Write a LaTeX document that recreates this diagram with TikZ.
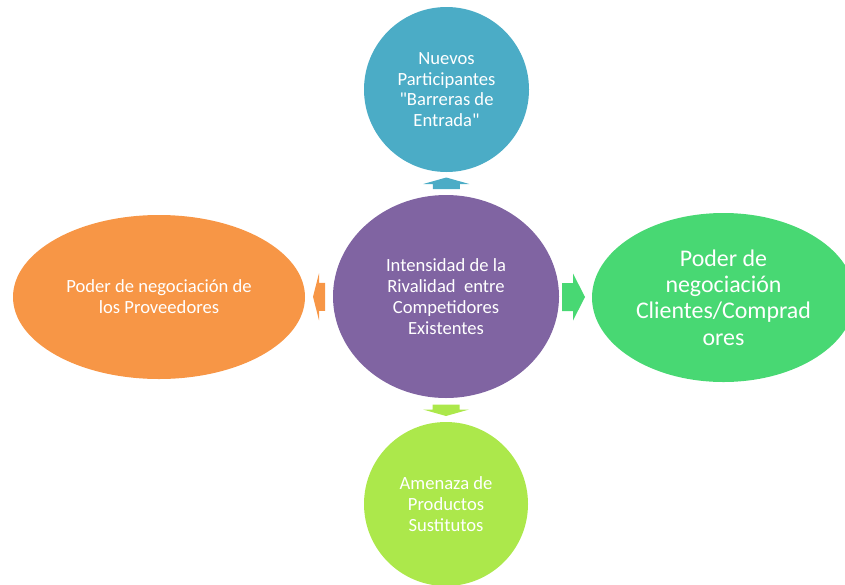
\documentclass[tikz,border=0pt]{standalone}
\usepackage{fontspec}
\setmainfont{Carlito}[Ligatures=TeXOff]
\usetikzlibrary{shapes.geometric,calc}

\definecolor{aqua}{HTML}{4BACC6}
\definecolor{violet}{HTML}{8064A2}
\definecolor{amber}{HTML}{F79646}
\definecolor{leaf}{HTML}{48D873}
\definecolor{lime}{HTML}{ACE84B}

\tikzset{
  force/.style={ellipse, inner sep=0pt, text=white, align=center},
  smalltxt/.style={font=\fontsize{18.6}{20.8}\selectfont},
  bigtxt/.style={font=\fontsize{23.9}{26.4}\selectfont},
}

\begin{document}
\begin{tikzpicture}[x=1pt, y=-1pt]
  \useasboundingbox (0,0) rectangle (845,584);
  \clip (0,0) rectangle (845,584);

  % the five forces
  \node[force, smalltxt, fill=violet, minimum width=226pt, minimum height=203pt]
    (rival) at (446,296.5)
    {Intensidad de la\\Rivalidad~~entre\\Competidores\\Existentes};
  \node[force, smalltxt, fill=aqua, minimum width=165pt, minimum height=165pt]
    (nuevos) at (446.5,89.5)
    {Nuevos\\Participantes\\"Barreras de\\Entrada"};
  \node[force, smalltxt, fill=lime, minimum width=164pt, minimum height=164pt]
    (sustitutos) at (446,504)
    {Amenaza de\\Productos\\Sustitutos};
  \node[force, smalltxt, fill=amber, minimum width=292pt, minimum height=164pt]
    (proveedores) at (159,297)
    {Poder de negociación de\\los Proveedores};
  \node[force, bigtxt, fill=leaf, minimum width=263pt, minimum height=169pt]
    (clientes) at (723.5,297.5)
    {Poder de\\negociación\\Clientes/Comprad\\ores};

  % anchor points of the block arrows, halfway between the shapes
  \coordinate (aup)    at ($(rival.north)!0.5!(nuevos.south)$);
  \coordinate (adown)  at ($(rival.south)!0.5!(sustitutos.north)$);
  \coordinate (aright) at ($(rival.east)!0.5!(clientes.west)+(-2,0)$);
  \coordinate (aleft)  at ($(rival.west)!0.5!(proveedores.east)$);

  % up arrow
  \fill[aqua, shift={(aup)}]
    (-13.5,5.5) -- (-13.5,0.5) -- (-23,0.5) -- (0,-6) -- (23,0.5)
    -- (13.5,0.5) -- (13.5,5.5) -- cycle;
  % down arrow
  \fill[lime, shift={(adown)}]
    (-13.5,-5.5) -- (13.5,-5.5) -- (13.5,-0.5) -- (23,-0.5) -- (0,6)
    -- (-23,-0.5) -- (-13.5,-0.5) -- cycle;
  % right arrow
  \fill[leaf, shift={(aright)}]
    (-11.5,-14) -- (-0.5,-14) -- (-0.5,-23.5) -- (11.5,0) -- (-0.5,23.5)
    -- (-0.5,14) -- (-11.5,14) -- cycle;
  % left arrow
  \fill[amber, shift={(aleft)}]
    (6,-14) -- (0,-14) -- (0,-23.5) -- (-6,0) -- (0,23.5)
    -- (0,14) -- (6,14) -- cycle;
\end{tikzpicture}
\end{document}
